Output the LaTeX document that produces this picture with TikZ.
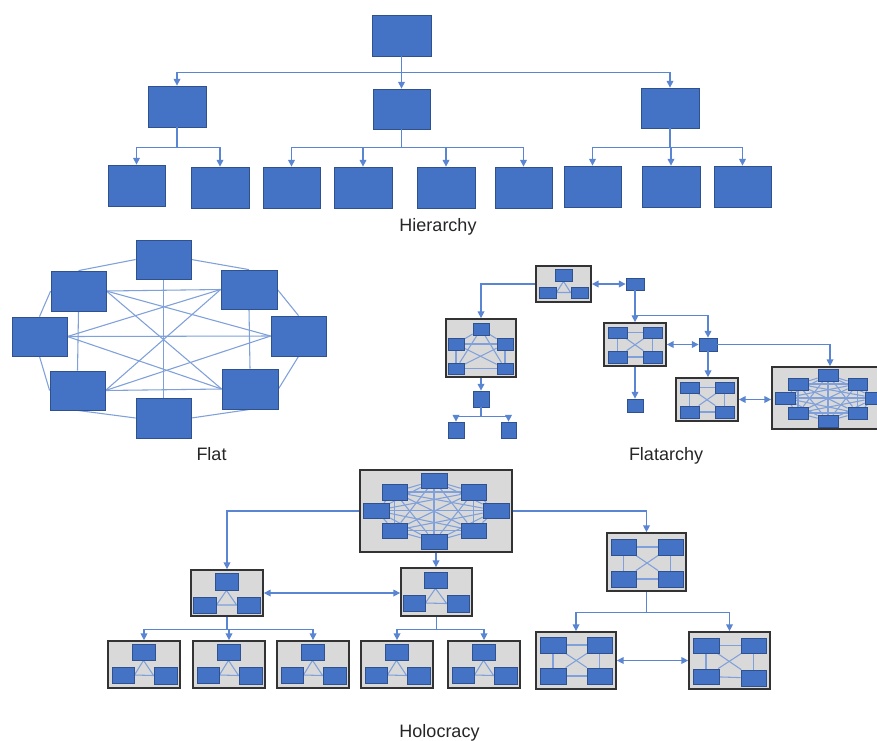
\documentclass[tikz,border=0pt]{standalone}
\usepackage{fontspec}
\newfontfamily\capfont{Liberation Sans}
\usetikzlibrary{arrows.meta,fit,calc}
\definecolor{boxblue}{HTML}{4472C4}
\definecolor{boxedge}{HTML}{2F528F}
\definecolor{netblue}{HTML}{7FA0DA}
\definecolor{arrowblue}{HTML}{5A85D2}
\definecolor{grpfill}{HTML}{D9D9D9}
\definecolor{grpedge}{HTML}{333333}
\pgfdeclarelayer{paper}
\pgfdeclarelayer{grp}
\pgfdeclarelayer{net}
\pgfsetlayers{paper,grp,net,main}

\tikzset{
  box/.style={fill=boxblue, draw=boxedge, line width=0.6pt, inner sep=0pt},
  grpbox/.style={fill=grpfill, draw=grpedge, line width=1.3pt, inner sep=0pt},
  netline/.style={draw=netblue, line width=0.8pt},
  arr/.style={draw=arrowblue, line width=0.9pt, -{Triangle[length=5pt,width=5pt]}},
  darr/.style={draw=arrowblue, line width=0.9pt,
    {Triangle[length=5pt,width=5pt]}-{Triangle[length=5pt,width=5pt]}},
  titletext/.style={font=\capfont\fontsize{13.5}{16}\selectfont, text=black!85, anchor=base, inner sep=0pt}
}

% blue box between two corners
\newcommand\bluebox[5]{\node[box, fit={(#2,#3) (#4,#5)}] (#1) {};}
% grey frame of a sub-network, kept below its links
\newcommand\grpnode[5]{\begin{pgfonlayer}{grp}\node[grpbox, fit={(#2,#3) (#4,#5)}] (#1) {};\end{pgfonlayer}}
% every pair of the listed nodes linked
\newcommand\meshlinks[2]{%
  \begin{pgfonlayer}{net}
  \foreach \a [count=\i] in {#2}{%
    \foreach \b [count=\j] in {#2}{%
      \ifnum\i<\j\relax \draw[netline] (#1\a) -- (#1\b);\fi}}%
  \end{pgfonlayer}}
% triangle of three linked boxes
\newcommand\trilinks[1]{\begin{pgfonlayer}{net}\draw[netline] (#1-t.south) -- (#1-l.east) -- (#1-r.west) -- cycle;\end{pgfonlayer}}
\newcommand\trigrp[3]{%
  \grpnode{#1}{#2}{#3}{#2+72}{#3+47}
  \bluebox{#1-t}{#2+24}{#3+3}{#2+47}{#3+19}
  \bluebox{#1-l}{#2+4}{#3+26}{#2+26}{#3+42}
  \bluebox{#1-r}{#2+46}{#3+26}{#2+69}{#3+43}
  \trilinks{#1}}

\begin{document}
\begin{tikzpicture}[x=0.75pt,y=-0.75pt]
\useasboundingbox (0,0) rectangle (877,740);
\begin{pgfonlayer}{paper}
  \fill[white] (0,0) rectangle (877,740);
\end{pgfonlayer}

%% ---------------- Hierarchy ----------------
\bluebox{h0}{372}{15}{431}{56}
\bluebox{h1}{148}{86}{206}{127}
\bluebox{h2}{373}{89}{430}{129}
\bluebox{h3}{641}{88}{699}{128}
\bluebox{h4}{108}{165}{165}{206}
\bluebox{h5}{191}{167}{249}{208}
\bluebox{h6}{263}{167}{320}{208}
\bluebox{h7}{334}{167}{392}{208}
\bluebox{h8}{417}{167}{475}{208}
\bluebox{h9}{495}{167}{552}{208}
\bluebox{h10}{564}{166}{621}{207}
\bluebox{h11}{642}{166}{700}{207}
\bluebox{h12}{714}{166}{771}{207}
\foreach \c in {h1,h2,h3} \draw[arr] (h0.south) -- ++(0,16) -| (\c.north);
\foreach \c in {h4,h5} \draw[arr] (h1.south) -- ++(0,20) -| (\c.north);
\foreach \c in {h6,h7,h8,h9} \draw[arr] (h2.south) -- ++(0,18) -| (\c.north);
\foreach \c in {h10,h11,h12} \draw[arr] (h3.south) -- ++(0,19) -| (\c.north);
\node[titletext] (capH) at (438,231) {Hierarchy};

%% ---------------- Flat ----------------
\bluebox{f-t}{136}{240}{191}{279}
\bluebox{f-ul}{51}{271}{106}{311}
\bluebox{f-ur}{221}{270}{277}{309}
\bluebox{f-l}{12}{317}{67}{356}
\bluebox{f-r}{271}{316}{326}{356}
\bluebox{f-ll}{50}{371}{105}{410}
\bluebox{f-lr}{222}{369}{278}{409}
\bluebox{f-b}{136}{398}{191}{438}
\begin{pgfonlayer}{net}
  % outer ring
  \draw[netline] (f-t.west) -- (f-ul.north);
  \draw[netline] (f-t.east) -- (f-ur.north);
  \draw[netline] (f-ul.west) -- (f-l.north);
  \draw[netline] (f-ur.east) -- (f-r.north);
  \draw[netline] (f-l.south) -- (f-ll.west);
  \draw[netline] (f-r.south) -- (f-lr.east);
  \draw[netline] (f-ll.south) -- (f-b.west);
  \draw[netline] (f-lr.south) -- (f-b.east);
  % inner web
  \draw[netline] (f-t.south) -- (f-b.north);
  \draw[netline] (f-ul.south) -- (f-ll.north);
  \draw[netline] (f-ur.south) -- (f-lr.north);
  \draw[netline] (f-ul.east) -- (f-ur.west);
  \draw[netline] (f-l.east) -- (f-r.west);
  \draw[netline] (f-ll.east) -- (f-lr.west);
  \draw[netline] (f-ul.east) -- (f-lr.west);
  \draw[netline] (f-ur.west) -- (f-ll.east);
  \draw[netline] (f-ul.east) -- (f-r.west);
  \draw[netline] (f-l.east) -- (f-ur.west);
  \draw[netline] (f-l.east) -- (f-lr.west);
  \draw[netline] (f-ll.east) -- (f-r.west);
\end{pgfonlayer}
\node[titletext] (capF) at (211.5,460) {Flat};

%% ---------------- Flatarchy ----------------
% top triangle team
\grpnode{fa1}{536}{266}{591}{302}
\bluebox{fa1-t}{555}{269}{572}{281}
\bluebox{fa1-l}{539}{287}{556}{298}
\bluebox{fa1-r}{571}{287}{588}{298}
\trilinks{fa1}
\bluebox{fah1}{626}{278}{644}{290}
% pentagon team
\grpnode{fa2}{446}{319}{516}{377}
\bluebox{fa2-t}{473}{323}{489}{335}
\bluebox{fa2-l}{448}{338}{464}{350}
\bluebox{fa2-r}{497}{338}{513}{350}
\bluebox{fa2-bl}{448}{363}{464}{374}
\bluebox{fa2-br}{497}{363}{513}{374}
\meshlinks{fa2-}{t,l,r,bl,br}
\bluebox{fas1}{473}{391}{489}{407}
\bluebox{fas2}{448}{422}{464}{438}
\bluebox{fas3}{501}{422}{516}{438}
% square team
\grpnode{fa3}{604}{323}{666}{366}
\bluebox{fa3-tl}{608}{327}{627}{338}
\bluebox{fa3-tr}{643}{327}{662}{338}
\bluebox{fa3-bl}{608}{351}{627}{363}
\bluebox{fa3-br}{643}{351}{662}{363}
\meshlinks{fa3-}{tl,tr,bl,br}
\bluebox{fah2}{699}{338}{717}{351}
\bluebox{fas4}{627}{399}{643}{412}
% second square team
\grpnode{fa4}{676}{378}{738}{421}
\bluebox{fa4-tl}{680}{382}{699}{393}
\bluebox{fa4-tr}{715}{382}{734}{393}
\bluebox{fa4-bl}{680}{406}{699}{418}
\bluebox{fa4-br}{715}{406}{734}{418}
\meshlinks{fa4-}{tl,tr,bl,br}
% large team, running past the right edge
\grpnode{fa5}{772}{367}{888}{429}
\bluebox{fa5-t}{818}{369}{838}{381}
\bluebox{fa5-ul}{788}{378}{808}{390}
\bluebox{fa5-ur}{848}{378}{867}{390}
\bluebox{fa5-l}{775}{392}{795}{404}
\bluebox{fa5-r}{865}{392}{885}{404}
\bluebox{fa5-ll}{788}{407}{808}{419}
\bluebox{fa5-lr}{848}{407}{867}{419}
\bluebox{fa5-b}{818}{415}{838}{427}
\meshlinks{fa5-}{t,ul,ur,l,r,ll,lr,b}
% connectors
\draw[darr] (fa1.east) -- (fah1.west);
\draw[arr] (fa1.west) -| (fa2.north);
\draw[arr] (fa2.south) -- (fas1.north);
\draw[arr] (fas1.south) -- ++(0,9) -| (fas2.north);
\draw[arr] (fas1.south) -- ++(0,9) -| (fas3.north);
\draw[arr] (fah1.south) -- (fah1.south |- fa3.north);
\draw[arr] (fah1.south) -- ++(0,25) -| (fah2.north);
\draw[darr] (fa3.east) -- (fah2.west);
\draw[arr] (fa3.south) -- (fa3.south |- fas4.north);
\draw[arr] (fah2.south) -- (fah2.south |- fa4.north);
\draw[arr] (fah2.east) -| (fa5.north);
\draw[darr] (fa4.east) -- (fa4.east -| fa5.west);
\node[titletext] (capFA) at (666,460) {Flatarchy};

%% ---------------- Holocracy ----------------
% top team
\grpnode{g0}{360}{470}{512}{552}
\bluebox{g0-t}{421}{473}{447}{488}
\bluebox{g0-ul}{382}{484}{407}{500}
\bluebox{g0-ur}{461}{484}{486}{500}
\bluebox{g0-l}{363}{503}{389}{518}
\bluebox{g0-r}{483}{503}{509}{518}
\bluebox{g0-ll}{382}{523}{407}{538}
\bluebox{g0-lr}{461}{523}{486}{538}
\bluebox{g0-b}{421}{534}{447}{549}
\meshlinks{g0-}{t,ul,ur,l,r,ll,lr,b}
% middle triangle teams
\grpnode{gA}{191}{570}{263}{616}
\bluebox{gA-t}{215}{573}{238}{590}
\bluebox{gA-l}{193}{597}{216}{613}
\bluebox{gA-r}{237}{597}{260}{613}
\trilinks{gA}
\grpnode{gB}{401}{568}{472}{616}
\bluebox{gB-t}{424}{572}{447}{588}
\bluebox{gB-l}{403}{595}{425}{611}
\bluebox{gB-r}{447}{595}{469}{612}
\trilinks{gB}
% square team on the right
\grpnode{gC}{607}{533}{686}{591}
\bluebox{gC-tl}{611}{539}{636}{555}
\bluebox{gC-tr}{658}{539}{683}{555}
\bluebox{gC-bl}{611}{571}{636}{587}
\bluebox{gC-br}{658}{571}{683}{587}
\meshlinks{gC-}{tl,tr,bl,br}
\grpnode{gD}{536}{632}{616}{689}
\bluebox{gD-tl}{540}{637}{566}{653}
\bluebox{gD-tr}{587}{637}{612}{653}
\bluebox{gD-bl}{540}{668}{566}{684}
\bluebox{gD-br}{587}{668}{612}{684}
\meshlinks{gD-}{tl,tr,bl,br}
\grpnode{gE}{689}{632}{770}{689}
\bluebox{gE-tl}{693}{638}{719}{653}
\bluebox{gE-tr}{741}{638}{766}{653}
\bluebox{gE-bl}{693}{669}{719}{684}
\bluebox{gE-br}{741}{670}{766}{686}
\meshlinks{gE-}{tl,tr,bl,br}
% bottom row of triangle teams
\trigrp{b1}{108}{641}
\trigrp{b2}{193}{641}
\trigrp{b3}{277}{641}
\trigrp{b4}{361}{641}
\trigrp{b5}{448}{641}
% connectors
\draw[arr] (g0.west) -| (gA.north);
\draw[arr] (g0.east) -| (gC.north);
\draw[arr] (g0.south) -- (g0.south |- gB.north);
\draw[darr] (gA.east) -- (gA.east -| gB.west);
\foreach \c in {b1,b2,b3} \draw[arr] (gA.south) -- ++(0,13) -| (\c.north);
\foreach \c in {b4,b5} \draw[arr] (gB.south) -- ++(0,13) -| (\c.north);
\foreach \c in {gD,gE} \draw[arr] (gC.south) -- ++(0,21) -| (\c.north);
\draw[darr] (gD.east) -- (gE.west);
\node[titletext] (capHo) at (439.5,737) {Holocracy};
\end{tikzpicture}
\end{document}
